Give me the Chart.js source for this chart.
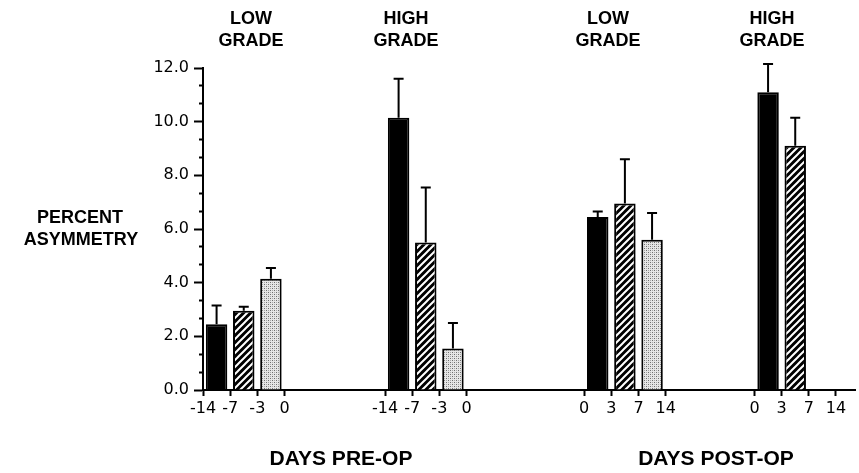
<!DOCTYPE html>
<html>
<head>
<meta charset="utf-8">
<script src="https://cdn.jsdelivr.net/npm/chart.js@4"></script>
<style>
  body { margin: 0; background: #fff; }
  #wrap { width: 859px; height: 473px; }
</style>
</head>
<body>
<div id="wrap"><canvas id="chart"></canvas></div>
<script>
// tick labels under each group of bars
var preDays = ['-14', '-7', '-3', '0'];
var postDays = ['0', '3', '7', '14'];
var groupTitles = [['LOW', 'GRADE'], ['HIGH', 'GRADE'], ['LOW', 'GRADE'], ['HIGH', 'GRADE']];

// percent asymmetry, one value per group (pre low, pre high, post low, post high)
var firstMeans = [2.45, 10.15, 6.45, 11.1];
var firstErr = [0.7, 1.45, 0.2, 1.05];
var secondMeans = [2.95, 5.5, 6.95, 9.1];
var secondErr = [0.15, 2.05, 1.65, 1.05];
var thirdMeans = [4.15, 1.55, 5.6, null];
var thirdErr = [0.4, 0.95, 1.0, null];

// where each group starts on the x axis (in interval units)
var groupStart = [0, 6.7, 14.03, 20.3];

var canvas = document.getElementById('chart');
var cctx = canvas.getContext('2d');

function hatchPattern() {
  var s = 7, t = document.createElement('canvas');
  t.width = s; t.height = s;
  var c = t.getContext('2d');
  c.fillStyle = '#000';
  c.fillRect(0, 0, s, s);
  c.strokeStyle = '#fff';
  c.lineWidth = 2;
  c.beginPath();
  c.moveTo(0, s); c.lineTo(s, 0);
  c.moveTo(-1, 1); c.lineTo(1, -1);
  c.moveTo(s - 1, s + 1); c.lineTo(s + 1, s - 1);
  c.stroke();
  return cctx.createPattern(t, 'repeat');
}

function dotPattern() {
  var t = document.createElement('canvas');
  t.width = 4; t.height = 4;
  var c = t.getContext('2d');
  c.fillStyle = '#e6e6e6';
  c.fillRect(0, 0, 4, 4);
  c.fillStyle = '#6e6e6e';
  c.fillRect(0, 0, 1, 1);
  c.fillRect(2, 2, 1, 1);
  c.fillStyle = '#a8a8a8';
  c.fillRect(2, 0, 1, 1);
  c.fillRect(0, 2, 1, 1);
  return cctx.createPattern(t, 'repeat');
}

function points(means, slot) {
  var out = [];
  for (var g = 0; g < means.length; g++) {
    if (means[g] !== null) out.push({x: groupStart[g] + slot + 0.5, y: means[g]});
  }
  return out;
}
function errs(list) {
  return list.filter(function(v){ return v !== null; });
}

var xTickValues = [];
var xTickLabels = [];
for (var g = 0; g < groupStart.length; g++) {
  var labs = g < 2 ? preDays : postDays;
  for (var k = 0; k < labs.length; k++) {
    xTickValues.push(groupStart[g] + k);
    xTickLabels.push(labs[k]);
  }
}

var errorBars = {
  id: 'errorBars',
  afterDatasetsDraw: function(chart) {
    var ctx = chart.ctx, ys = chart.scales.y;
    ctx.save();
    ctx.strokeStyle = '#000';
    ctx.lineWidth = 2;
    chart.data.datasets.forEach(function(ds, i) {
      var meta = chart.getDatasetMeta(i);
      meta.data.forEach(function(bar, j) {
        var top = ys.getPixelForValue(ds.data[j].y + ds.errors[j]);
        ctx.beginPath();
        ctx.moveTo(bar.x, bar.y);
        ctx.lineTo(bar.x, top);
        ctx.moveTo(bar.x - 5, top);
        ctx.lineTo(bar.x + 5, top);
        ctx.stroke();
      });
    });
    ctx.restore();
  }
};

var texts = {
  id: 'texts',
  afterDraw: function(chart) {
    var ctx = chart.ctx;
    var titleX = [251, 406, 608, 772];
    ctx.save();
    ctx.fillStyle = '#000';
    ctx.textAlign = 'center';
    ctx.textBaseline = 'middle';
    ctx.font = 'bold 18px "Liberation Sans", Arial, sans-serif';
    for (var g = 0; g < groupTitles.length; g++) {
      ctx.fillText(groupTitles[g][0], titleX[g], 19);
      ctx.fillText(groupTitles[g][1], titleX[g], 41);
    }
    ctx.fillText('PERCENT', 80, 218);
    ctx.fillText('ASYMMETRY', 81, 240);
    ctx.font = 'bold 21px "Liberation Sans", Arial, sans-serif';
    ctx.fillText('DAYS PRE-OP', 341, 459);
    ctx.fillText('DAYS POST-OP', 716, 459);
    ctx.restore();
  }
};

new Chart(canvas, {
  type: 'bar',
  data: {
    datasets: [
      {data: points(firstMeans, 0), errors: errs(firstErr), backgroundColor: '#000'},
      {data: points(secondMeans, 1), errors: errs(secondErr), backgroundColor: hatchPattern()},
      {data: points(thirdMeans, 2), errors: errs(thirdErr), backgroundColor: dotPattern()}
    ]
  },
  options: {
    responsive: true,
    maintainAspectRatio: false,
    animation: false,
    devicePixelRatio: 1,
    layout: {padding: {top: 68, right: 4, bottom: 0, left: 0}},
    datasets: {
      bar: {
        grouped: false,
        barPercentage: 0.79,
        categoryPercentage: 1,
        borderColor: '#000',
        borderWidth: 2
      }
    },
    plugins: {legend: {display: false}, tooltip: {enabled: false}},
    scales: {
      x: {
        type: 'linear',
        min: 0,
        max: 24,
        offset: false,
        afterBuildTicks: function(scale) {
          scale.ticks = xTickValues.map(function(v){ return {value: v}; });
        },
        afterFit: function(scale) { scale.height = 83; },
        grid: {offset: false, drawOnChartArea: false, tickLength: 6, tickWidth: 2, tickColor: '#000'},
        border: {display: true, color: '#000', width: 2},
        ticks: {
          autoSkip: false,
          maxRotation: 0,
          padding: 3,
          color: '#000',
          font: {family: '"DejaVu Sans", sans-serif', size: 16},
          callback: function(v, i) { return xTickLabels[i]; }
        }
      },
      y: {
        min: 0,
        max: 12,
        afterBuildTicks: function(scale) {
          var t = [];
          for (var i = 0; i <= 18; i++) t.push({value: i * 2 / 3});
          scale.ticks = t;
        },
        afterFit: function(scale) { scale.width = 203; },
        grid: {
          drawOnChartArea: false,
          tickLength: 9,
          tickWidth: 2,
          tickColor: '#000',
          tickBorderDash: function(c) { return c.index % 3 ? [0, 5, 20] : []; }
        },
        border: {display: true, color: '#000', width: 2},
        ticks: {
          autoSkip: false,
          padding: 5,
          color: '#000',
          font: {family: '"DejaVu Sans", sans-serif', size: 16},
          callback: function(v, i) { return i % 3 ? '' : (i * 2 / 3).toFixed(1); }
        }
      }
    }
  },
  plugins: [errorBars, texts]
});
</script>
</body>
</html>
